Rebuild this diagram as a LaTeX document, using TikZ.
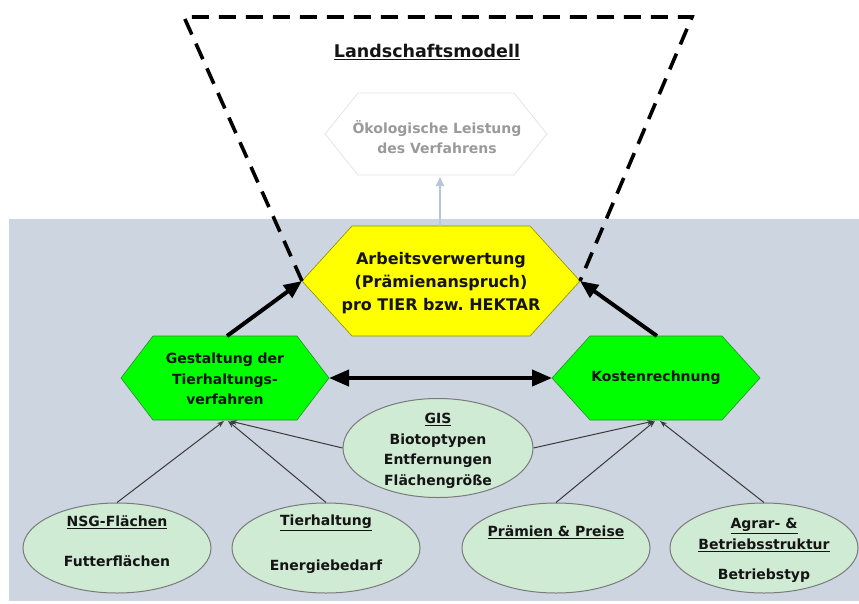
\documentclass[tikz,border=0pt]{standalone}
\usepackage{fontspec}
\setmainfont{DejaVu Sans}
\usetikzlibrary{arrows.meta,shapes.geometric}

\definecolor{panel}{HTML}{CCD5E0}
\definecolor{hexgreen}{HTML}{00FF00}
\definecolor{hexgreenline}{HTML}{2E8B2E}
\definecolor{hexyellow}{HTML}{FFFF00}
\definecolor{hexyellowline}{HTML}{8C8C00}
\definecolor{ovalfill}{HTML}{D0EBD4}
\definecolor{ovalline}{HTML}{7A7A7A}
\definecolor{thinarrow}{HTML}{3A3A3A}
\definecolor{paletext}{HTML}{9A9A9A}
\definecolor{palearrow}{HTML}{B4C6D8}
\definecolor{paleline}{HTML}{E4E4E4}

% hexagon with pointed left/right ends: name, cx, cy, half width, half top edge, half height, style
\newcommand\hexshape[7]{%
  \path[#7] (#2-#4,#3) -- (#2-#5,#3-#6) -- (#2+#5,#3-#6) -- (#2+#4,#3)
    -- (#2+#5,#3+#6) -- (#2-#5,#3+#6) -- cycle;
  \coordinate (#1-w) at (#2-#4,#3);
  \coordinate (#1-e) at (#2+#4,#3);
  \coordinate (#1-n) at (#2,#3-#6);
  \coordinate (#1-s) at (#2,#3+#6);
}

\tikzset{
  label14/.style={font=\bfseries\fontsize{14}{20.5}\selectfont, align=center, inner sep=0pt, text=black!92},
  label16/.style={font=\bfseries\fontsize{16}{23}\selectfont, align=center, inner sep=0pt, text=black!92},
  oval/.style={ellipse, draw=ovalline, fill=ovalfill, line width=1pt, inner sep=0pt,
               minimum width=188pt, minimum height=90pt},
  greenhex/.style={fill=hexgreen, draw=hexgreenline, line width=0.6pt},
  yellowhex/.style={fill=hexyellow, draw=hexyellowline, line width=0.6pt},
  palehex/.style={fill=white, draw=paleline, line width=0.8pt},
  boldarrow/.style={line width=4pt, -{Triangle[length=18pt,width=15pt]}},
  boldboth/.style={line width=4pt, {Triangle[length=20pt,width=16pt]}-{Triangle[length=20pt,width=16pt]}},
  thinarr/.style={draw=thinarrow, line width=1pt, -{Stealth[length=7pt,width=5pt]}},
  modelframe/.style={line width=3.6pt, dash pattern=on 17pt off 10pt}
}

\begin{document}
\begin{tikzpicture}[x=1pt,y=-1pt]
\useasboundingbox (0,0) rectangle (859,603);

% lower panel
\fill[panel] (9,219) rectangle (859,601);

% upper landscape model
\hexshape{oeko}{436}{134}{111}{78}{41}{palehex}
\node[label14, text=paletext] (oekotext) at (437,137) {Ökologische Leistung\\des Verfahrens};
\node[font=\bfseries\fontsize{17.5}{21}\selectfont, inner sep=0pt, text=black!92] (landschaft) at (427,52) {\underline{Landschaftsmodell}};

% central hexagon
\hexshape{arbeit}{441}{281}{139}{89}{55}{yellowhex}
\node[label16] (arbeittext) at (441,283) {Arbeitsverwertung\\(Prämienanspruch)\\pro TIER bzw.\ HEKTAR};

% dashed frame of the landscape model
\coordinate (frameTL) at (184,17);
\coordinate (frameTR) at (692,17);
\draw[modelframe] (arbeit-w) -- (frameTL) -- (frameTR) -- (arbeit-e);

% link to the ecological result
\coordinate (oekoIn) at (440,177);
\coordinate (arbeitOut) at (440,226);
\draw[palearrow, line width=2pt, -{Triangle[length=9pt,width=8pt]}] (arbeitOut) -- (oekoIn);

% process hexagons
\hexshape{gest}{225}{378}{104}{72}{42}{greenhex}
\node[label14] (gesttext) at (225,379) {Gestaltung der\\Tierhaltungs-\\verfahren};
\hexshape{kost}{656}{378}{104}{66}{42}{greenhex}
\node[label14] (kosttext) at (656,378) {Kostenrechnung};

% bold connectors
\draw[boldarrow] (227,336) -- (arbeit-w);
\draw[boldarrow] (657,336) -- (arbeit-e);
\draw[boldboth] (gest-e) -- (kost-w);

% data sources
\node[oval] (nsg) at (117,548) {};
\node[label14] (nsgtitle) at (117,522) {\underline{NSG-Flächen}};
\node[label14] (nsgbody) at (117,561) {Futterflächen};

\node[oval] (tier) at (326,548) {};
\node[label14] (tiertitle) at (326,523) {\underline{Tierhaltung}};
\node[label14] (tierbody) at (326,567) {Energiebedarf};

\node[oval, minimum width=190pt, minimum height=99pt] (gis) at (438,448) {};
\node[label14] (gistext) at (438,451) {\underline{GIS}\\Biotoptypen\\Entfernungen\\Flächengröße};

\node[oval] (praem) at (556,548) {};
\node[label14] (praemtitle) at (556,532) {\underline{Prämien \& Preise}};

\node[oval] (agrar) at (764,548) {};
\node[label14] (agrartitle) at (764,535) {\underline{Agrar- \&}\\\underline{Betriebsstruktur}};
\node[label14] (agrarbody) at (764,576) {Betriebstyp};

% thin input arrows
\coordinate (gestIn) at (226,421);
\coordinate (kostIn) at (656,421);
\draw[thinarr] (nsg.north) -- ([xshift=-2pt]gestIn);
\draw[thinarr] (tier.north) -- ([xshift=2pt]gestIn);
\draw[thinarr] (gis.west) -- ([xshift=4pt]gestIn);
\draw[thinarr] (gis.east) -- ([xshift=-2pt]kostIn);
\draw[thinarr] (praem.north) -- ([xshift=-1pt]kostIn);
\draw[thinarr] (agrar.north) -- ([xshift=4pt]kostIn);
\end{tikzpicture}
\end{document}
